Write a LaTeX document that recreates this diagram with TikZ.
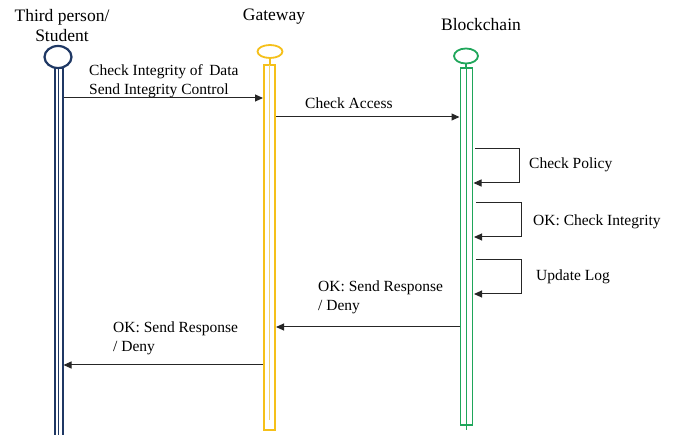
\documentclass[tikz,border=0pt]{standalone}
\usepackage{fontspec}
\setmainfont{Liberation Serif}
\usetikzlibrary{arrows.meta}
\definecolor{navy}{HTML}{1F3864}
\definecolor{gold}{HTML}{F5C01A}
\definecolor{lgold}{HTML}{F2D36B}
\definecolor{grn}{HTML}{1FA65A}
\tikzset{
  head/.style={font=\fontsize{17.5}{20}\selectfont, align=center, inner sep=0pt},
  msg/.style={font=\fontsize{15.5}{18.5}\selectfont, align=left, inner sep=0pt},
  arr/.style={-{Triangle[length=8pt,width=7pt]}, line width=1pt, black!85},
  loop/.style={-{Triangle[length=8pt,width=7pt]}, line width=1pt, black!85},
}
\begin{document}
\begin{tikzpicture}[x=1pt,y=-1pt]
\useasboundingbox (0,0) rectangle (673,435);
% headers
\node[head] (hs) at (62,26) {Third person/\\Student};
\node[head] (hg) at (274,17) {Gateway};
\node[head] (hb) at (481,25) {Blockchain};
% Student lifeline
\draw[navy, line width=2.2pt] (58,57) ellipse (13.5 and 11);
\draw[navy, line width=2pt] (54.5,68) rectangle (62.5,440);
\draw[navy, line width=1.2pt] (58.5,68) -- (58.5,440);
% Gateway lifeline
\draw[gold, line width=1.8pt] (270,51.5) ellipse (12.5 and 6.5);
\draw[gold, line width=1.2pt] (270,58) -- (270,65);
\draw[gold, line width=1.8pt] (264,65) rectangle (275,430);
\draw[lgold, line width=1pt] (269.5,65) -- (269.5,420);
% Blockchain lifeline
\draw[grn, line width=1.8pt] (466,56) ellipse (12 and 7.5);
\draw[grn, line width=1.2pt] (466,63.5) -- (466,68);
\draw[grn, line width=1.8pt] (460.5,68) rectangle (472.5,425);
\draw[grn, line width=1.3pt] (466.5,68) -- (466.5,430);
% coordinates
\coordinate (s1) at (63.5,98);
\coordinate (g1) at (263,98);
\coordinate (g2) at (276,117);
\coordinate (b2) at (459.5,117);
\coordinate (p1) at (475,149);
\coordinate (p2) at (519,149);
\coordinate (p3) at (519,183);
\coordinate (p4) at (473.5,183);
\coordinate (i1) at (476,203);
\coordinate (i2) at (521,203);
\coordinate (i3) at (521,237);
\coordinate (i4) at (474,237);
\coordinate (u1) at (476,260);
\coordinate (u2) at (521,260);
\coordinate (u3) at (521,294);
\coordinate (u4) at (474,294);
\coordinate (b5) at (459.5,327);
\coordinate (g5) at (276,327);
\coordinate (g6) at (263,365);
\coordinate (s6) at (63.5,365);
% messages
\draw[arr] (s1) -- (g1);
\node[msg, anchor=west] (m1) at (89,81) {Check Integrity of\, Data\\Send Integrity Control};
\draw[arr] (g2) -- (b2);
\node[msg, anchor=west] (m2) at (305,103) {Check Access};
\draw[loop] (p1) -- (p2) -- (p3) -- (p4);
\node[msg, anchor=west] (m3) at (529,164.5) {Check Policy};
\draw[loop] (i1) -- (i2) -- (i3) -- (i4);
\node[msg, anchor=west] (m4) at (533,221.5) {OK: Check Integrity};
\draw[loop] (u1) -- (u2) -- (u3) -- (u4);
\node[msg, anchor=west] (m5) at (536,276.5) {Update Log};
\draw[arr] (b5) -- (g5);
\node[msg, anchor=west] (m6) at (318,297.5) {OK: Send Response\\/ Deny};
\draw[arr] (g6) -- (s6);
\node[msg, anchor=west] (m7) at (113,338.5) {OK: Send Response\\/ Deny};
\end{tikzpicture}
\end{document}
